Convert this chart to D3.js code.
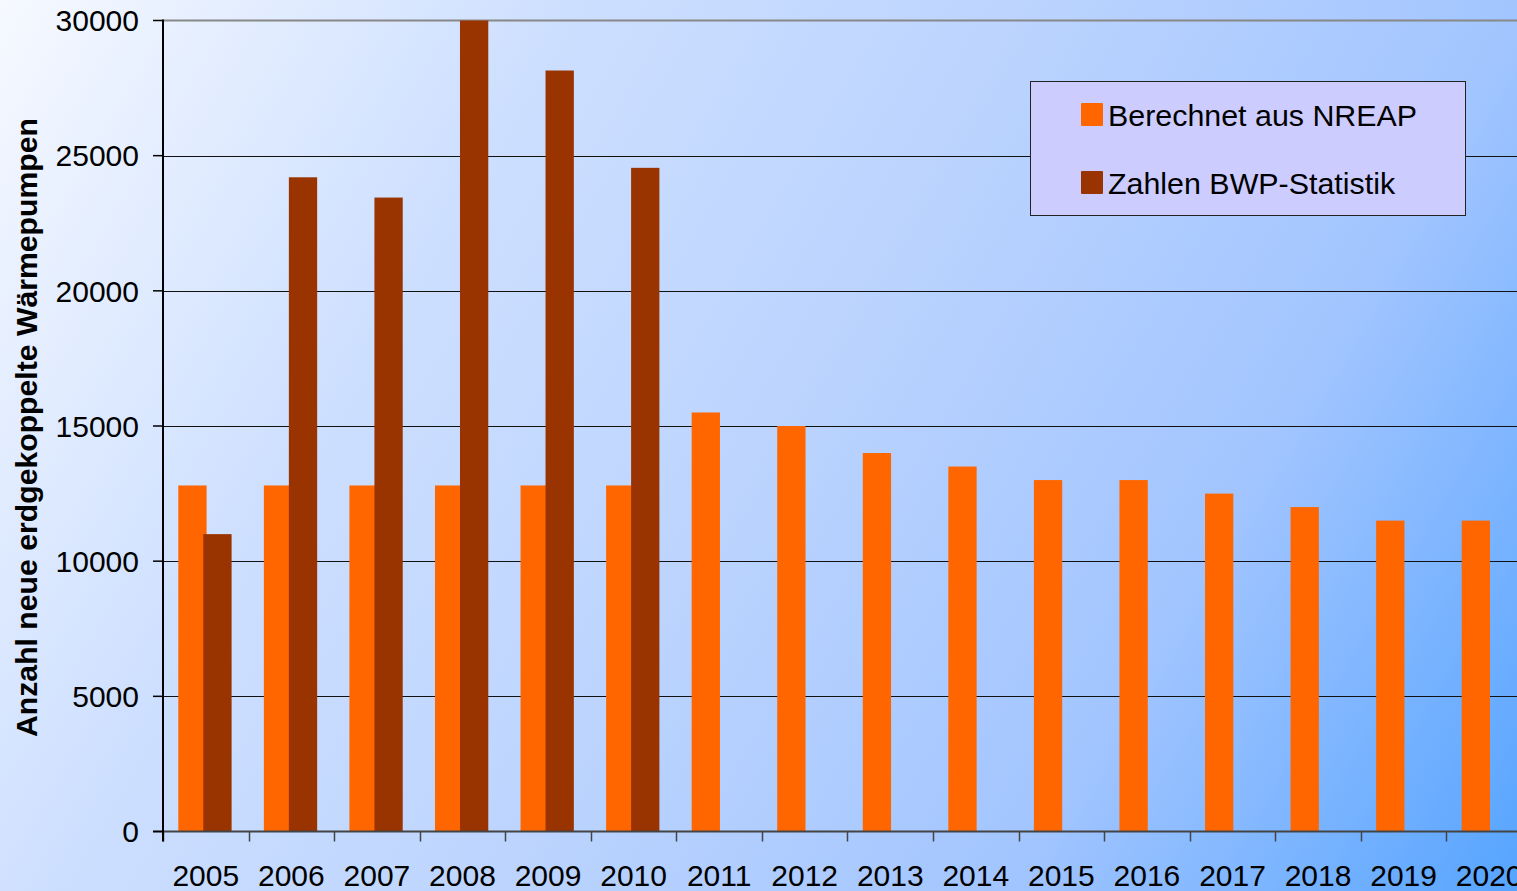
<!DOCTYPE html>
<html>
<head>
<meta charset="utf-8">
<script src="https://cdn.jsdelivr.net/npm/d3@7"></script>
<style>
  html, body { margin: 0; padding: 0; overflow: hidden; }
  svg { display: block; font-family: "Liberation Sans", Arial, sans-serif; }
</style>
</head>
<body>
<div id="chart"></div>
<script>
// chart data
const years = ['2005', '2006', '2007', '2008', '2009', '2010', '2011', '2012',
  '2013', '2014', '2015', '2016', '2017', '2018', '2019', '2020'];
const nreap = [12800, 12800, 12800, 12800, 12800, 12800, 15500, 15000,
  14000, 13500, 13000, 13000, 12500, 12000, 11500, 11500];
const bwp = [11000, 24200, 23450, 30000, 28150, 24550, null, null,
  null, null, null, null, null, null, null, null];
const yTicks = [0, 5000, 10000, 15000, 20000, 25000, 30000];
const seriesNames = ['Berechnet aus NREAP', 'Zahlen BWP-Statistik'];
const seriesColors = ['#ff6600', '#993300'];

const W = 1517, H = 891;
const plot = { left: 163, top: 20.5, bottom: 831.5 };
const step = 85.56;

const svg = d3.select('#chart').append('svg')
  .attr('width', W)
  .attr('height', H);

// background gradient
const grad = svg.append('defs').append('linearGradient')
  .attr('id', 'bg')
  .attr('gradientUnits', 'userSpaceOnUse')
  .attr('x1', 0).attr('y1', 0).attr('x2', W).attr('y2', H);
grad.append('stop').attr('offset', 0).attr('stop-color', '#f6f9ff');
grad.append('stop').attr('offset', 0.28).attr('stop-color', '#cddfff');
grad.append('stop').attr('offset', 0.5).attr('stop-color', '#bcd4fe');
grad.append('stop').attr('offset', 0.75).attr('stop-color', '#a2c5ff');
grad.append('stop').attr('offset', 1).attr('stop-color', '#56a4ff');

svg.append('rect')
  .attr('width', W)
  .attr('height', H)
  .attr('fill', 'url(#bg)');

// scales
const x = d3.scaleBand()
  .domain(years)
  .range([plot.left, plot.left + step * years.length])
  .paddingInner(0)
  .paddingOuter(0);

const inner = d3.scaleBand()
  .domain([0, 1])
  .range([15.3, 65.3]);
const barW = 28.3;

const y = d3.scaleLinear()
  .domain([0, 30000])
  .range([plot.bottom, plot.top]);

// gridlines
svg.append('g')
  .selectAll('line')
  .data(yTicks.filter(d => d > 0 && d < 30000))
  .enter()
  .append('line')
  .attr('x1', plot.left)
  .attr('x2', W)
  .attr('y1', d => Math.round(y(d)) + 0.5)
  .attr('y2', d => Math.round(y(d)) + 0.5)
  .attr('stroke', '#111')
  .attr('stroke-width', 1);

// top border line
svg.append('line')
  .attr('x1', plot.left)
  .attr('x2', W)
  .attr('y1', y(30000))
  .attr('y2', y(30000))
  .attr('stroke', '#888')
  .attr('stroke-width', 2);

// bars
[nreap, bwp].forEach((values, si) => {
  svg.append('g')
    .selectAll('rect')
    .data(values.map((v, i) => ({ year: years[i], value: v })).filter(d => d.value != null))
    .enter()
    .append('rect')
    .attr('x', d => x(d.year) + inner(si))
    .attr('width', barW)
    .attr('y', d => y(d.value))
    .attr('height', d => y(0) - y(d.value))
    .attr('fill', seriesColors[si]);
});

// x axis
const xAxis = svg.append('g')
  .attr('transform', `translate(0,${plot.bottom})`);
xAxis.append('line')
  .attr('x1', plot.left - 10)
  .attr('x2', W)
  .attr('stroke', '#444')
  .attr('stroke-width', 2);
xAxis.selectAll('.tick')
  .data(years)
  .enter()
  .append('line')
  .attr('x1', d => Math.round(x(d)) + 0.5)
  .attr('x2', d => Math.round(x(d)) + 0.5)
  .attr('y1', 0)
  .attr('y2', 10)
  .attr('stroke', '#444')
  .attr('stroke-width', 1.5);
xAxis.selectAll('text')
  .data(years)
  .enter()
  .append('text')
  .attr('x', d => x(d) + x.bandwidth() / 2)
  .attr('y', 54.5)
  .attr('text-anchor', 'middle')
  .attr('font-size', 30)
  .attr('fill', '#000')
  .text(d => d);

// y axis
const yAxis = svg.append('g')
  .attr('transform', `translate(${plot.left},0)`);
yAxis.append('line')
  .attr('y1', plot.top - 1)
  .attr('y2', plot.bottom + 10)
  .attr('stroke', '#000')
  .attr('stroke-width', 2);
yAxis.selectAll('.tick')
  .data(yTicks)
  .enter()
  .append('line')
  .attr('x1', -10)
  .attr('x2', 0)
  .attr('y1', d => y(d))
  .attr('y2', d => y(d))
  .attr('stroke', '#000')
  .attr('stroke-width', 1.5);
yAxis.selectAll('text')
  .data(yTicks)
  .enter()
  .append('text')
  .attr('x', -24)
  .attr('y', d => y(d))
  .attr('dy', '0.36em')
  .attr('text-anchor', 'end')
  .attr('font-size', 30)
  .attr('fill', '#000')
  .text(d => d);

// y axis title
svg.append('text')
  .attr('transform', 'translate(37,427.5) rotate(-90)')
  .attr('text-anchor', 'middle')
  .attr('font-size', 30.2)
  .attr('font-weight', 'bold')
  .attr('fill', '#000')
  .text('Anzahl neue erdgekoppelte Wärmepumpen');

// legend
const legend = svg.append('g');
legend.append('rect')
  .attr('x', 1030.5)
  .attr('y', 81.5)
  .attr('width', 435)
  .attr('height', 134)
  .attr('fill', '#ccccff')
  .attr('stroke', '#222')
  .attr('stroke-width', 1);
seriesNames.forEach((name, i) => {
  const gy = 103 + i * 68;
  legend.append('rect')
    .attr('x', 1081)
    .attr('y', gy)
    .attr('width', 22)
    .attr('height', 23)
    .attr('rx', 1)
    .attr('fill', seriesColors[i]);
  legend.append('text')
    .attr('x', 1108)
    .attr('y', gy + 22.5)
    .attr('font-size', 30.4)
    .attr('fill', '#000')
    .text(name);
});
</script>
</body>
</html>
